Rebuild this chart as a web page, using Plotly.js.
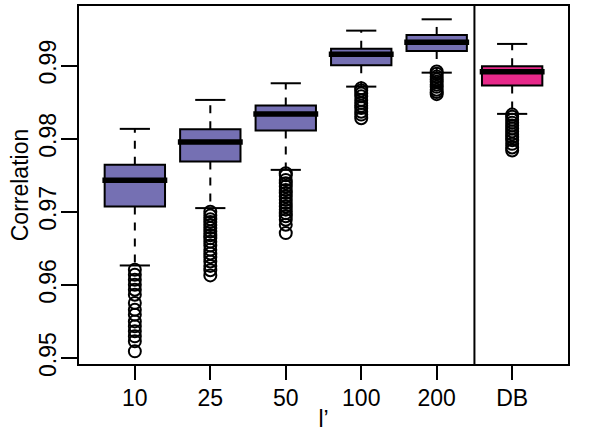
<!DOCTYPE html>
<html>
<head>
<meta charset="utf-8">
<script src="https://cdn.plot.ly/plotly-3.0.1.min.js"></script>
<style>html,body{margin:0;padding:0;background:#fff;}#chart{width:600px;height:443px;}</style>
</head>
<body>
<div id="chart"></div>
<script>
// ---- data ----
const categories = ['10', '25', '50', '100', '200', 'DB'];
const q1 = [0.97072, 0.97688, 0.98111, 0.99006, 0.99201, 0.98727];
const median = [0.97433, 0.97957, 0.98340, 0.99156, 0.99320, 0.98918];
const q3 = [0.97643, 0.98131, 0.98453, 0.99232, 0.99420, 0.98992];
const lowerWhisker = [0.96266, 0.97051, 0.97574, 0.98713, 0.98904, 0.98340];
const upperWhisker = [0.98135, 0.98531, 0.98759, 0.99479, 0.99634, 0.99297];
const outliers10 = [0.96207, 0.96139, 0.96071, 0.96002, 0.95934, 0.95866, 0.95752, 0.95661, 0.95592, 0.95501, 0.95433, 0.95365, 0.95296, 0.95228, 0.95091];
const outliers25 = [0.9700, 0.9695, 0.9690, 0.9686, 0.9682, 0.9678, 0.9673, 0.9668, 0.9664, 0.9659, 0.9654, 0.9648, 0.9643, 0.9638, 0.9632, 0.9626, 0.9620, 0.9613];
const outliers50 = [0.97529, 0.9750, 0.97437, 0.9739, 0.97346, 0.9730, 0.97256, 0.9721, 0.97164, 0.9712, 0.97073, 0.9703, 0.96982, 0.9694, 0.96891, 0.96822, 0.96709];
const outliers100 = [0.9869, 0.9866, 0.9862, 0.9858, 0.9853, 0.9849, 0.9845, 0.9842, 0.9837, 0.9833, 0.9828];
const outliers200 = [0.9892, 0.9889, 0.9885, 0.9881, 0.9878, 0.9874, 0.9871, 0.9867, 0.9864, 0.9861];
const outliersDB = [0.9833, 0.9830, 0.9826, 0.9822, 0.9818, 0.9814, 0.9810, 0.9806, 0.9802, 0.9798, 0.9793, 0.9788, 0.9784];
const outlierSets = [outliers10, outliers25, outliers50, outliers100, outliers200, outliersDB];
const boxColors = ['#7570B3', '#7570B3', '#7570B3', '#7570B3', '#7570B3', '#E7298A'];
const xTitle = 'l\u2019';
const yTitle = 'Correlation';
const yTicks = [0.95, 0.96, 0.97, 0.98, 0.99];

// ---- styles ----
const BOXW = 0.8, CAPW = 0.4, FONT = '"Liberation Sans", Arial, sans-serif', FS = 23, LW = 2;
const positions = categories.map((c, i) => i + 1);

const traces = [];
// whiskers (dashed) and caps
const wx = [], wy = [], cx = [], cy = [];
positions.forEach((p, i) => {
  wx.push(p, p, null, p, p, null);
  wy.push(q3[i], upperWhisker[i], null, q1[i], lowerWhisker[i], null);
  cx.push(p - CAPW / 2, p + CAPW / 2, null, p - CAPW / 2, p + CAPW / 2, null);
  cy.push(upperWhisker[i], upperWhisker[i], null, lowerWhisker[i], lowerWhisker[i], null);
});
traces.push({type: 'scatter', mode: 'lines', x: wx, y: wy, line: {color: '#000', width: LW, dash: '8px,8px'}, hoverinfo: 'skip', showlegend: false});
traces.push({type: 'scatter', mode: 'lines', x: cx, y: cy, line: {color: '#000', width: LW}, hoverinfo: 'skip', showlegend: false});

// boxes
positions.forEach((p, i) => {
  traces.push({
    type: 'box', x: [p], q1: [q1[i]], median: [median[i]], q3: [q3[i]],
    lowerfence: [q1[i]], upperfence: [q3[i]], width: BOXW, whiskerwidth: 0,
    fillcolor: boxColors[i], line: {color: '#000', width: LW}, boxpoints: false, showlegend: false
  });
});

// thick medians
const mx = [], my = [];
positions.forEach((p, i) => { mx.push(p - BOXW / 2 - 0.03, p + BOXW / 2 + 0.03, null); my.push(median[i], median[i], null); });
traces.push({type: 'scatter', mode: 'lines', x: mx, y: my, line: {color: '#000', width: 5.5}, hoverinfo: 'skip', showlegend: false});

// outliers
const ox = [], oy = [];
outlierSets.forEach((set, i) => set.forEach(v => { ox.push(positions[i]); oy.push(v); }));
traces.push({type: 'scatter', mode: 'markers', x: ox, y: oy, marker: {symbol: 'circle-open', size: 12, color: '#000', line: {width: 2, color: '#000'}}, showlegend: false});

const layout = {
  width: 600, height: 443,
  margin: {l: 79, r: 31.5, t: 6, b: 78.7},
  paper_bgcolor: '#fff', plot_bgcolor: '#fff',
  font: {family: FONT, size: FS, color: '#000'},
  showlegend: false,
  xaxis: {
    range: [0.26, 6.74], tickvals: positions, ticktext: categories,
    showgrid: false, zeroline: false, showline: true, mirror: true, linecolor: '#000', linewidth: LW,
    ticks: 'outside', ticklen: 14, tickwidth: LW, tickcolor: '#000',
    tickfont: {size: FS}, ticklabelstandoff: -2,
    title: {text: xTitle, font: {size: FS}, standoff: 1}
  },
  yaxis: {
    range: [0.94918, 0.99816], tickvals: yTicks, ticktext: yTicks.map(v => v.toFixed(2)),
    showgrid: false, zeroline: false, showline: true, mirror: true, linecolor: '#000', linewidth: LW,
    ticks: 'outside', ticklen: 16, tickwidth: LW, tickcolor: '#000',
    tickangle: -90, tickfont: {size: FS}, ticklabelstandoff: -4,
    title: {text: yTitle, font: {size: FS}, standoff: 0}
  },
  shapes: [{type: 'line', xref: 'x', yref: 'paper', x0: 5.5, x1: 5.5, y0: 0, y1: 1, line: {color: '#000', width: LW}}]
};

Plotly.newPlot('chart', traces, layout, {staticPlot: true, displayModeBar: false});
</script>
</body>
</html>
